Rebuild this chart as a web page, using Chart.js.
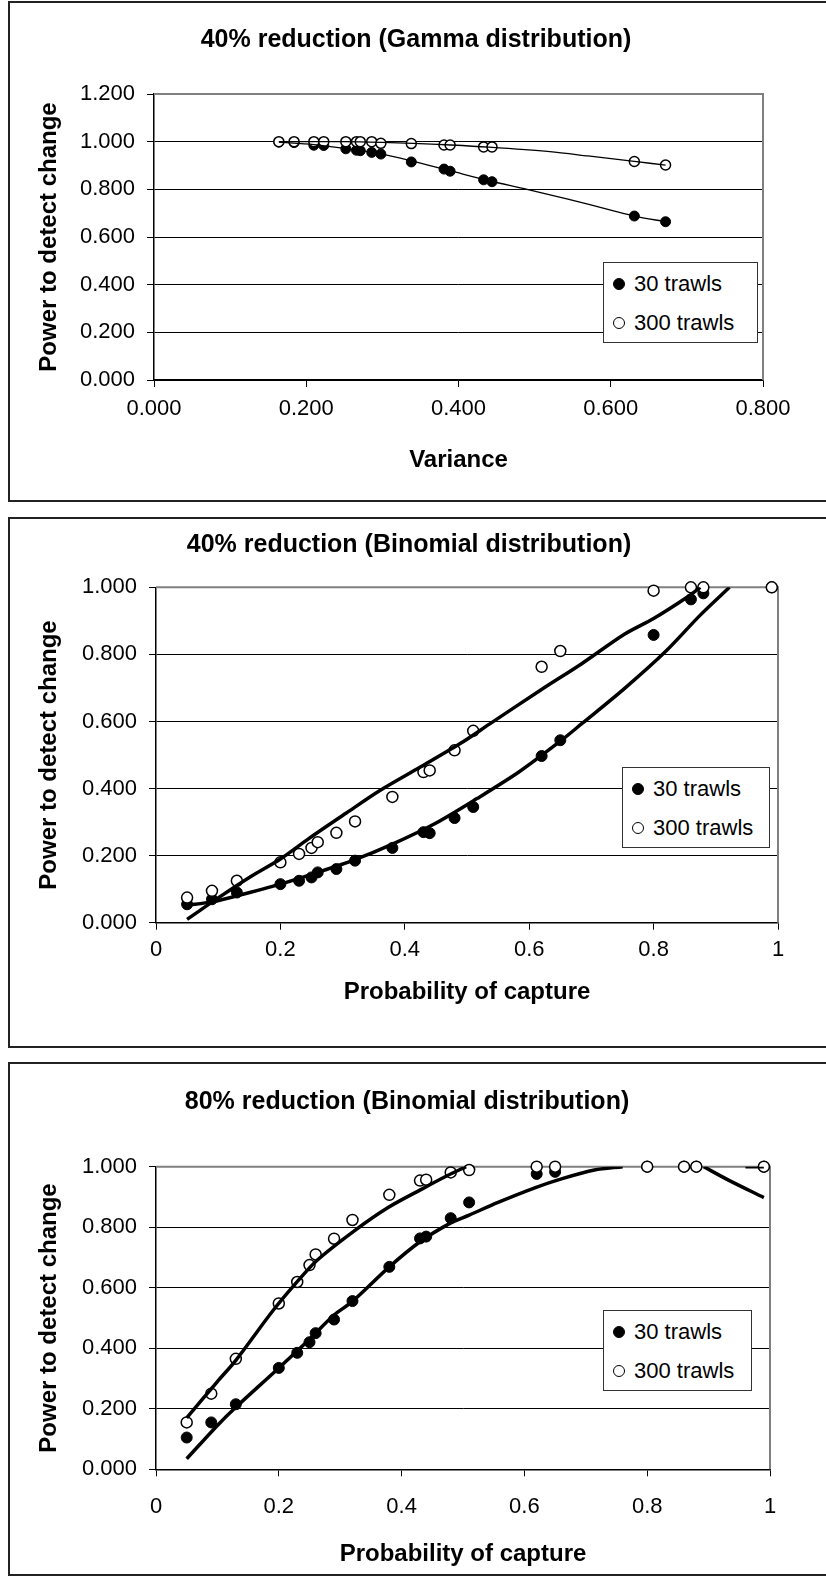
<!DOCTYPE html>
<html>
<head>
<meta charset="utf-8">
<script src="https://cdn.jsdelivr.net/npm/chart.js@4.4.1/dist/chart.umd.min.js"></script>
<style>
  html, body { margin: 0; padding: 0; background: #fff; overflow: hidden; }
  body { width: 826px; height: 1587px; position: relative; font-family: 'Liberation Sans', Arial, sans-serif; }
  .frame { position: absolute; left: 8px; width: 830px; border: 2px solid #222; box-sizing: border-box; }
  .wrap { position: absolute; left: 0; width: 826px; }
  .legend { position: absolute; border: 1.5px solid #333; background: #fff; box-sizing: border-box;
            padding: 1px 0 0 9px; font-size: 22px; color: #000; height: 81px; }
  .legend .row { height: 39px; display: flex; align-items: center; white-space: nowrap; }
  .legend .dot { width: 12px; height: 12px; border-radius: 50%; box-sizing: border-box;
                 border: 1.5px solid #000; margin-right: 9px; }
</style>
</head>
<body>
<div class="frame" style="top:1px;height:501px"></div>
<div class="frame" style="top:517px;height:531px"></div>
<div class="frame" style="top:1062px;height:514px"></div>

<div class="wrap" style="top:0;height:500px"><canvas id="gamma" width="826" height="500"></canvas></div>
<div class="wrap" style="top:505px;height:545px"><canvas id="binom40" width="826" height="545"></canvas></div>
<div class="wrap" style="top:1055px;height:532px"><canvas id="binom80" width="826" height="532"></canvas></div>

<div class="legend" id="leg1" style="left:603px;top:262px;width:155px"></div>
<div class="legend" id="leg2" style="left:622px;top:767px;width:148px"></div>
<div class="legend" id="leg3" style="left:603px;top:1310px;width:149px"></div>

<script>
// ---- 40% reduction, Gamma distribution ----
const gammaVariance  = [0.164, 0.184, 0.210, 0.223, 0.252, 0.266, 0.271, 0.286, 0.298, 0.338, 0.381, 0.389, 0.433, 0.444, 0.631, 0.672];
const gammaPower30   = [0.998, 0.996, 0.985, 0.984, 0.970, 0.964, 0.962, 0.955, 0.948, 0.915, 0.885, 0.876, 0.840, 0.832, 0.688, 0.664];
const gammaPower300  = [1.000, 1.000, 1.000, 1.000, 1.000, 1.000, 1.000, 1.000, 0.993, 0.992, 0.986, 0.986, 0.978, 0.978, 0.917, 0.902];
// trendlines as drawn in the figure
const gammaFit30X    = [0.164, 0.210, 0.250, 0.300, 0.340, 0.390, 0.440, 0.490, 0.545, 0.600, 0.631, 0.672];
const gammaFit30Y    = [0.998, 0.988, 0.972, 0.948, 0.918, 0.877, 0.836, 0.800, 0.758, 0.713, 0.688, 0.664];
const gammaFit300X   = [0.164, 0.250, 0.300, 0.340, 0.390, 0.440, 0.520, 0.570, 0.631, 0.672];
const gammaFit300Y   = [1.000, 1.000, 0.997, 0.993, 0.986, 0.977, 0.958, 0.940, 0.917, 0.902];
const varianceTicks  = [0, 0.2, 0.4, 0.6, 0.8];
const gammaPowerTicks = [0, 0.2, 0.4, 0.6, 0.8, 1.0, 1.2];

// ---- Binomial distribution, probability of capture ----
const captureProb    = [0.05, 0.09, 0.13, 0.20, 0.23, 0.25, 0.26, 0.29, 0.32, 0.38, 0.43, 0.44, 0.48, 0.51, 0.62, 0.65, 0.80, 0.86, 0.88, 0.99];
const b40Power30     = [0.055, 0.070, 0.090, 0.115, 0.125, 0.135, 0.150, 0.160, 0.185, 0.223, 0.270, 0.267, 0.312, 0.345, 0.497, 0.544, 0.858, 0.964, 0.982, 1.000];
const b40Power300    = [0.075, 0.095, 0.125, 0.180, 0.205, 0.223, 0.240, 0.268, 0.302, 0.375, 0.449, 0.454, 0.514, 0.572, 0.763, 0.810, 0.990, 1.000, 1.000, 1.000];
const b40Fit30X      = [0.05, 0.09, 0.13, 0.20, 0.26, 0.32, 0.381, 0.448, 0.516, 0.584, 0.652, 0.685, 0.753, 0.82, 0.875, 0.922];
const b40Fit30Y      = [0.052, 0.062, 0.080, 0.115, 0.150, 0.188, 0.235, 0.295, 0.370, 0.450, 0.544, 0.594, 0.698, 0.810, 0.917, 1.000];
const b40Fit300X     = [0.05, 0.10, 0.15, 0.20, 0.245, 0.306, 0.36, 0.425, 0.489, 0.536, 0.618, 0.685, 0.753, 0.80, 0.855, 0.875];
const b40Fit300Y     = [0.010, 0.074, 0.135, 0.190, 0.250, 0.327, 0.394, 0.464, 0.534, 0.592, 0.693, 0.773, 0.860, 0.907, 0.972, 1.000];

const b80Power30     = [0.105, 0.155, 0.215, 0.335, 0.385, 0.420, 0.450, 0.495, 0.556, 0.669, 0.763, 0.769, 0.830, 0.882, 0.976, 0.983, 1.000, 1.000, 1.000, 1.000];
const b80Power300    = [0.155, 0.250, 0.365, 0.548, 0.619, 0.675, 0.710, 0.762, 0.824, 0.907, 0.954, 0.957, 0.981, 0.989, 1.000, 1.000, 1.000, 1.000, 1.000, 1.000];
const b80Fit30X      = [0.05, 0.10, 0.13, 0.20, 0.25, 0.29, 0.32, 0.38, 0.43, 0.478, 0.51, 0.557, 0.618, 0.659, 0.714, 0.76, 0.83, 0.892, 0.934, 0.99];
const b80Fit30Y      = [0.035, 0.145, 0.205, 0.335, 0.430, 0.510, 0.555, 0.669, 0.752, 0.812, 0.840, 0.882, 0.931, 0.959, 0.989, 1.000, null, 1.000, 0.954, 0.898];
const b80Fit300X     = [0.05, 0.10, 0.13, 0.19, 0.23, 0.262, 0.323, 0.378, 0.433, 0.474, 0.505, 0.70, 0.96, 0.99];
const b80Fit300Y     = [0.170, 0.290, 0.360, 0.523, 0.620, 0.690, 0.788, 0.865, 0.926, 0.970, 1.000, null, 1.000, 1.000];
const captureTicks   = [0, 0.2, 0.4, 0.6, 0.8, 1];
const powerTicks     = [0, 0.2, 0.4, 0.6, 0.8, 1.0];

const seriesNames = ['30 trawls', '300 trawls'];
const FONT = "'Liberation Sans', Arial, sans-serif";

function pairs(xs, ys) { return xs.map((x, i) => ({x: x, y: ys[i]})); }

// gray top/right border of the plot area (left & bottom are the black axes)
const plotFrame = {
  id: 'plotFrame',
  beforeDatasetsDraw(chart) {
    const {ctx, chartArea: a} = chart;
    ctx.save();
    ctx.strokeStyle = '#808080';
    ctx.lineWidth = 2;
    ctx.beginPath();
    ctx.moveTo(a.left, a.top);
    ctx.lineTo(a.right, a.top);
    ctx.lineTo(a.right, a.bottom);
    ctx.stroke();
    ctx.restore();
  }
};

function buildChart(id, p) {
  const H = p.height;
  // left padding chosen so the full-width title is centred where the figure has it
  const padL = 2 * p.titleX - p.right;
  return new Chart(document.getElementById(id), {
    type: 'scatter',
    data: {
      datasets: [
        { label: seriesNames[0] + ' trend', data: pairs(p.fit30X, p.fit30Y), showLine: true, pointRadius: 0,
          borderColor: '#000', borderWidth: p.fitWidth, tension: 0.3, spanGaps: false },
        { label: seriesNames[1] + ' trend', data: pairs(p.fit300X, p.fit300Y), showLine: true, pointRadius: 0,
          borderColor: '#000', borderWidth: p.fitWidth, tension: 0.3, spanGaps: false },
        { label: seriesNames[1], data: pairs(p.x, p.y300), pointRadius: p.radius, backgroundColor: '#fff',
          borderColor: '#000', borderWidth: 1.5, clip: false },
        { label: seriesNames[0], data: pairs(p.x, p.y30), pointRadius: p.radius, backgroundColor: '#000',
          borderColor: '#000', borderWidth: 1, clip: false }
      ]
    },
    options: {
      responsive: false,
      animation: false,
      events: [],
      layout: { padding: { left: padL, right: 826 - p.right, top: 0, bottom: 0 } },
      plugins: {
        legend: { display: false },
        tooltip: { enabled: false },
        title: {
          display: true, text: p.title, color: '#000',
          font: { family: FONT, size: 25, weight: 'bold' },
          padding: { top: p.titleY - 15, bottom: p.top - (p.titleY - 15) - 30 }
        }
      },
      scales: {
        x: {
          type: 'linear', min: p.xTicks[0], max: p.xTicks[p.xTicks.length - 1],
          afterFit: s => { s.height = H - p.bottom; },
          afterBuildTicks: s => { s.ticks = p.xTicks.map(v => ({value: v})); },
          ticks: { callback: p.xFmt, padding: p.labelY - p.bottom - 20.2, color: '#000',
                   font: { family: FONT, size: 22 }, maxRotation: 0, autoSkip: false },
          grid: { drawOnChartArea: false, drawTicks: true, tickLength: 7, tickColor: '#000' },
          border: { color: '#000', width: 1.5 },
          title: { display: true, text: p.xTitle, color: '#000',
                   font: { family: FONT, size: 24, weight: 'bold' },
                   padding: { top: 0, bottom: H - p.xTitleY - 14.4 } }
        },
        y: {
          type: 'linear', min: p.yTicks[0], max: p.yTicks[p.yTicks.length - 1],
          afterFit: s => { s.width = p.left - padL; },
          afterBuildTicks: s => { s.ticks = p.yTicks.map(v => ({value: v})); },
          ticks: { callback: v => v.toFixed(3), padding: 12, color: '#000',
                   font: { family: FONT, size: 22 }, autoSkip: false },
          grid: { color: '#000', lineWidth: 1, drawTicks: true, tickLength: 7, tickColor: '#000' },
          border: { color: '#000', width: 1.5 },
          title: { display: true, text: 'Power to detect change', color: '#000',
                   font: { family: FONT, size: 24, weight: 'bold' },
                   padding: { top: 49 - 14.4 - padL, bottom: 0 } }
        }
      }
    },
    plugins: [plotFrame]
  });
}

function buildLegend(id, chart) {
  const box = document.getElementById(id);
  const sets = chart.data.datasets;
  [sets[3], sets[2]].forEach(ds => {
    const row = document.createElement('div');
    row.className = 'row';
    const dot = document.createElement('span');
    dot.className = 'dot';
    dot.style.background = ds.backgroundColor;
    row.appendChild(dot);
    row.appendChild(document.createTextNode(ds.label));
    box.appendChild(row);
  });
}

const fmt3 = v => v.toFixed(3);
const fmtPlain = v => String(Math.round(v * 10) / 10);

const c1 = buildChart('gamma', {
  title: '40% reduction (Gamma distribution)', xTitle: 'Variance',
  x: gammaVariance, y30: gammaPower30, y300: gammaPower300,
  fit30X: gammaFit30X, fit30Y: gammaFit30Y, fit300X: gammaFit300X, fit300Y: gammaFit300Y,
  xTicks: varianceTicks, yTicks: gammaPowerTicks, xFmt: fmt3,
  radius: 5, fitWidth: 1.3,
  height: 500, left: 154, right: 763, top: 94, bottom: 380,
  titleX: 416, titleY: 40, labelY: 409, xTitleY: 460
});

const c2 = buildChart('binom40', {
  title: '40% reduction (Binomial distribution)', xTitle: 'Probability of capture',
  x: captureProb, y30: b40Power30, y300: b40Power300,
  fit30X: b40Fit30X, fit30Y: b40Fit30Y, fit300X: b40Fit300X, fit300Y: b40Fit300Y,
  xTicks: captureTicks, yTicks: powerTicks, xFmt: fmtPlain,
  radius: 5.5, fitWidth: 3.5,
  height: 545, left: 156, right: 778, top: 82.3, bottom: 417.7,
  titleX: 409, titleY: 40, labelY: 445, xTitleY: 487
});

const c3 = buildChart('binom80', {
  title: '80% reduction (Binomial distribution)', xTitle: 'Probability of capture',
  x: captureProb, y30: b80Power30, y300: b80Power300,
  fit30X: b80Fit30X, fit30Y: b80Fit30Y, fit300X: b80Fit300X, fit300Y: b80Fit300Y,
  xTicks: captureTicks, yTicks: powerTicks, xFmt: fmtPlain,
  radius: 5.5, fitWidth: 3.5,
  height: 532, left: 156, right: 770, top: 111.7, bottom: 414.3,
  titleX: 407, titleY: 47, labelY: 452, xTitleY: 499
});

buildLegend('leg1', c1);
buildLegend('leg2', c2);
buildLegend('leg3', c3);
</script>
</body>
</html>
